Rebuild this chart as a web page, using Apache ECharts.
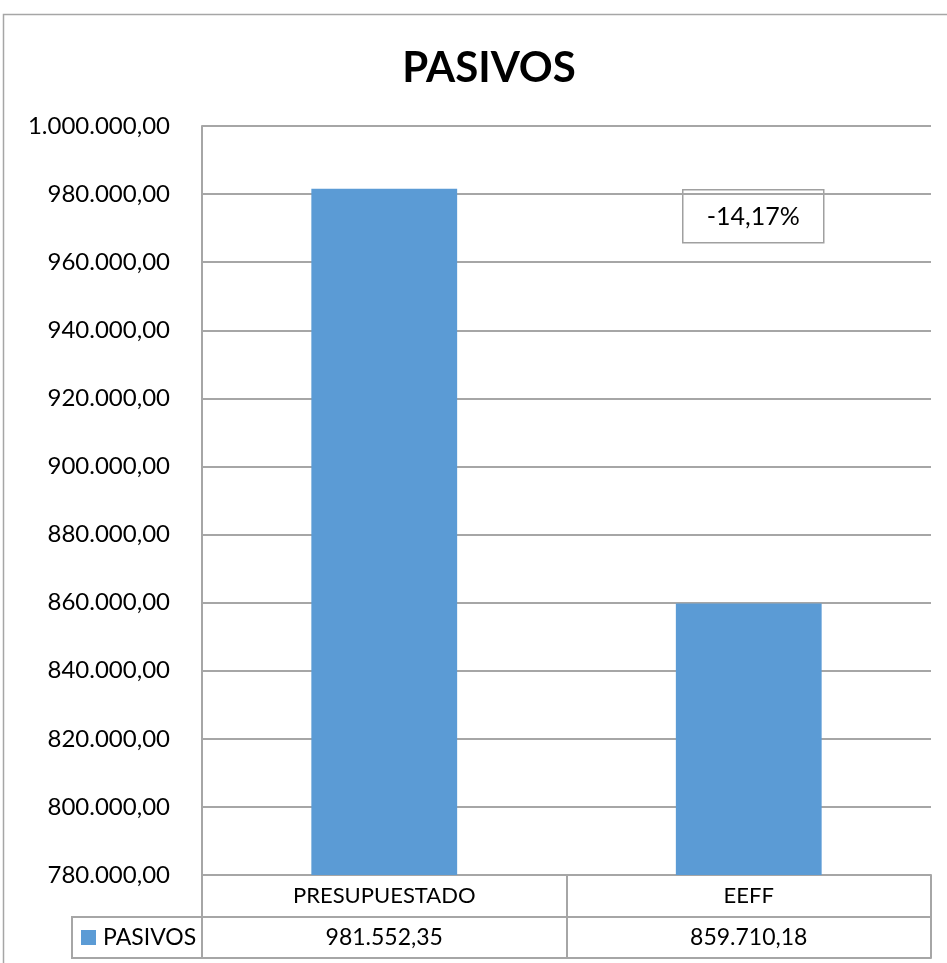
<!DOCTYPE html>
<html>
<head>
<meta charset="utf-8">
<script src="https://cdn.jsdelivr.net/npm/echarts@6/dist/echarts.min.js"></script>
<style>
  html, body { margin: 0; padding: 0; background: #fff; }
  #c { width: 947px; height: 963px; }
</style>
</head>
<body>
<div id="c"></div>
<script>
// Liabilities: budgeted vs. financial statements
const categories = ['PRESUPUESTADO', 'EEFF'];
const seriesName = 'PASIVOS';
const values = [981552.35, 859710.18];
const yMin = 780000;
const yMax = 1000000;
const yStep = 20000;

// Spanish-style number format: 1.234.567,89
function fmt(v, d) {
  const neg = v < 0;
  const parts = Math.abs(v).toFixed(d).split('.');
  const intPart = parts[0].replace(/\B(?=(\d{3})+(?!\d))/g, '.');
  return (neg ? '-' : '') + intPart + (parts[1] ? ',' + parts[1] : '');
}

// Variation shown in the callout box
const change = (values[1] - values[0]) / values[1] * 100;
const changeText = fmt(change, 2) + '%';

const FONT = 'Lato, "Open Sans", sans-serif';
const LINE = '#a6a6a6';

const chart = echarts.init(document.getElementById('c'), null, { renderer: 'canvas' });

chart.setOption({
  animation: false,
  backgroundColor: '#fff',
  title: {
    text: seriesName,
    left: 484,
    textAlign: 'center',
    top: 42,
    textStyle: { fontFamily: FONT, fontWeight: 'bold', fontSize: 42, color: '#000' }
  },
  legend: {
    data: [seriesName],
    left: 81,
    top: 926,
    padding: 0,
    icon: 'rect',
    itemWidth: 15,
    itemHeight: 15,
    itemGap: 0,
    textStyle: { fontFamily: FONT, fontSize: 23, color: '#000', padding: [0, 0, 0, 2] }
  },
  grid: { left: 202, right: 16, top: 126, bottom: 88, containLabel: false },
  xAxis: [
    {
      type: 'category',
      data: categories,
      position: 'bottom',
      axisLine: { show: true, lineStyle: { color: LINE, width: 2 } },
      axisTick: { show: true, length: 83, lineStyle: { color: LINE, width: 2 } },
      axisLabel: { margin: 21, verticalAlign: 'middle', fontFamily: FONT, fontSize: 22, color: '#000' }
    },
    {
      type: 'category',
      data: values.map(v => fmt(v, 2)),
      position: 'bottom',
      offset: 42,
      axisLine: { show: true, lineStyle: { color: LINE, width: 2 } },
      axisTick: { show: false },
      axisLabel: { margin: 21, verticalAlign: 'middle', fontFamily: FONT, fontSize: 23, color: '#000' }
    },
    {
      type: 'category',
      data: categories,
      position: 'bottom',
      offset: 83,
      axisLine: { show: true, lineStyle: { color: LINE, width: 2 } },
      axisTick: { show: false },
      axisLabel: { show: false }
    }
  ],
  yAxis: {
    type: 'value',
    min: yMin,
    max: yMax,
    interval: yStep,
    axisLine: { show: true, lineStyle: { color: LINE, width: 2 } },
    axisTick: { show: false },
    splitLine: { show: true, lineStyle: { color: LINE, width: 2 } },
    axisLabel: {
      margin: 32,
      fontFamily: FONT,
      fontSize: 24,
      color: '#000',
      formatter: v => fmt(v, 2)
    }
  },
  series: [
    {
      name: seriesName,
      type: 'bar',
      xAxisIndex: 0,
      data: values,
      barWidth: '40%',
      itemStyle: { color: '#5b9bd5' }
    }
  ],
  graphic: [
    // outer chart frame
    {
      type: 'rect',
      shape: { x: 3.5, y: 14.5, width: 1000, height: 1000 },
      style: { fill: 'none', stroke: '#a6a6a6', lineWidth: 1.5 },
      silent: true
    },
    // legend cell of the data table
    {
      type: 'rect',
      shape: { x: 72, y: 917, width: 130, height: 41 },
      style: { fill: 'none', stroke: LINE, lineWidth: 2 },
      silent: true
    },
    // variation callout
    {
      type: 'group',
      left: 682,
      top: 189,
      children: [
        {
          type: 'rect',
          shape: { x: 0, y: 0, width: 141, height: 53 },
          style: { fill: '#fff', stroke: '#a0a0a0', lineWidth: 1.5 }
        },
        {
          type: 'text',
          x: 70.5,
          y: 27,
          style: {
            text: changeText,
            align: 'center',
            verticalAlign: 'middle',
            fontFamily: FONT,
            fontSize: 25,
            fill: '#000'
          }
        }
      ]
    }
  ]
});
</script>
</body>
</html>
